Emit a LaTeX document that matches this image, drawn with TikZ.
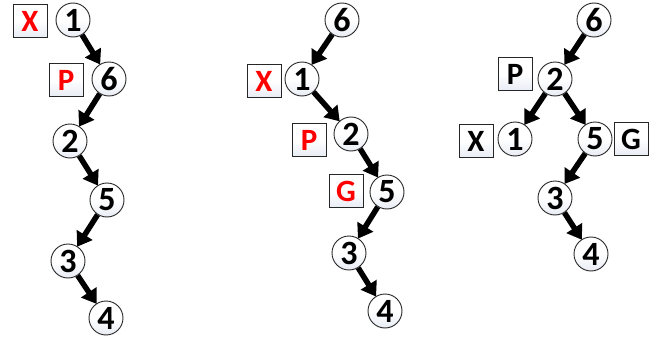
\documentclass[tikz,border=0pt]{standalone}
\usepackage{fontspec}
\setmainfont{Carlito}
\usetikzlibrary{arrows.meta}
\definecolor{shadebot}{HTML}{E8ECF4}
\definecolor{tagred}{HTML}{FF0000}
\tikzset{
  key/.style={circle, draw=black!85, line width=0.9pt, minimum size=34pt, inner sep=0pt,
    top color=white, bottom color=shadebot, middle color=white,
    font=\fontsize{34}{36}\selectfont\bfseries},
  tag/.style={rectangle, draw=black!85, line width=1pt, minimum width=34pt, minimum height=33pt,
    inner sep=0pt, top color=white, bottom color=shadebot, middle color=white,
    font=\fontsize{31}{33}\selectfont\bfseries},
  redtag/.style={tag, text=tagred},
  link/.style={line width=5.5pt, -{Triangle[length=14pt,width=18pt]}, shorten >=-0.5pt}
}
\begin{document}
\begin{tikzpicture}[x=1pt,y=-1pt]
\useasboundingbox (0,0) rectangle (657,340);

% first tree: a right-left zigzag chain
\node[key] (a1) at (73,20) {1};
\node[key] (a6) at (109,79) {6};
\node[key] (a2) at (70,141) {2};
\node[key] (a5) at (107,200) {5};
\node[key] (a3) at (68,261) {3};
\node[key] (a4) at (106,318) {4};
\node[redtag] (ax) at (30,21) {X};
\node[redtag] (ap) at (66,80) {P};
\draw[link] (a1) -- (a6);
\draw[link] (a6) -- (a2);
\draw[link] (a2) -- (a5);
\draw[link] (a5) -- (a3);
\draw[link] (a3) -- (a4);

% second tree: after the first rotation
\node[key] (b6) at (342,20) {6};
\node[key] (b1) at (302,79) {1};
\node[key] (b2) at (351,134) {2};
\node[key] (b5) at (387,192) {5};
\node[key] (b3) at (349,253) {3};
\node[key] (b4) at (385,311) {4};
\node[redtag] (bx) at (264,81) {X};
\node[redtag] (bp) at (309,140) {P};
\node[redtag] (bg) at (346,191) {G};
\draw[link] (b6) -- (b1);
\draw[link] (b1) -- (b2);
\draw[link] (b2) -- (b5);
\draw[link] (b5) -- (b3);
\draw[link] (b3) -- (b4);

% third tree: after the second rotation
\node[key] (c6) at (594,20) {6};
\node[key] (c2) at (555,79) {2};
\node[key] (c1) at (515,139) {1};
\node[key] (c5) at (595,139) {5};
\node[key] (c3) at (555,198) {3};
\node[key] (c4) at (591,254) {4};
\node[tag] (cp) at (515,74) {P};
\node[tag] (cx) at (476,141) {X};
\node[tag] (cg) at (631,139) {G};
\draw[link] (c6) -- (c2);
\draw[link] (c2) -- (c1);
\draw[link] (c2) -- (c5);
\draw[link] (c5) -- (c3);
\draw[link] (c3) -- (c4);
\end{tikzpicture}
\end{document}
